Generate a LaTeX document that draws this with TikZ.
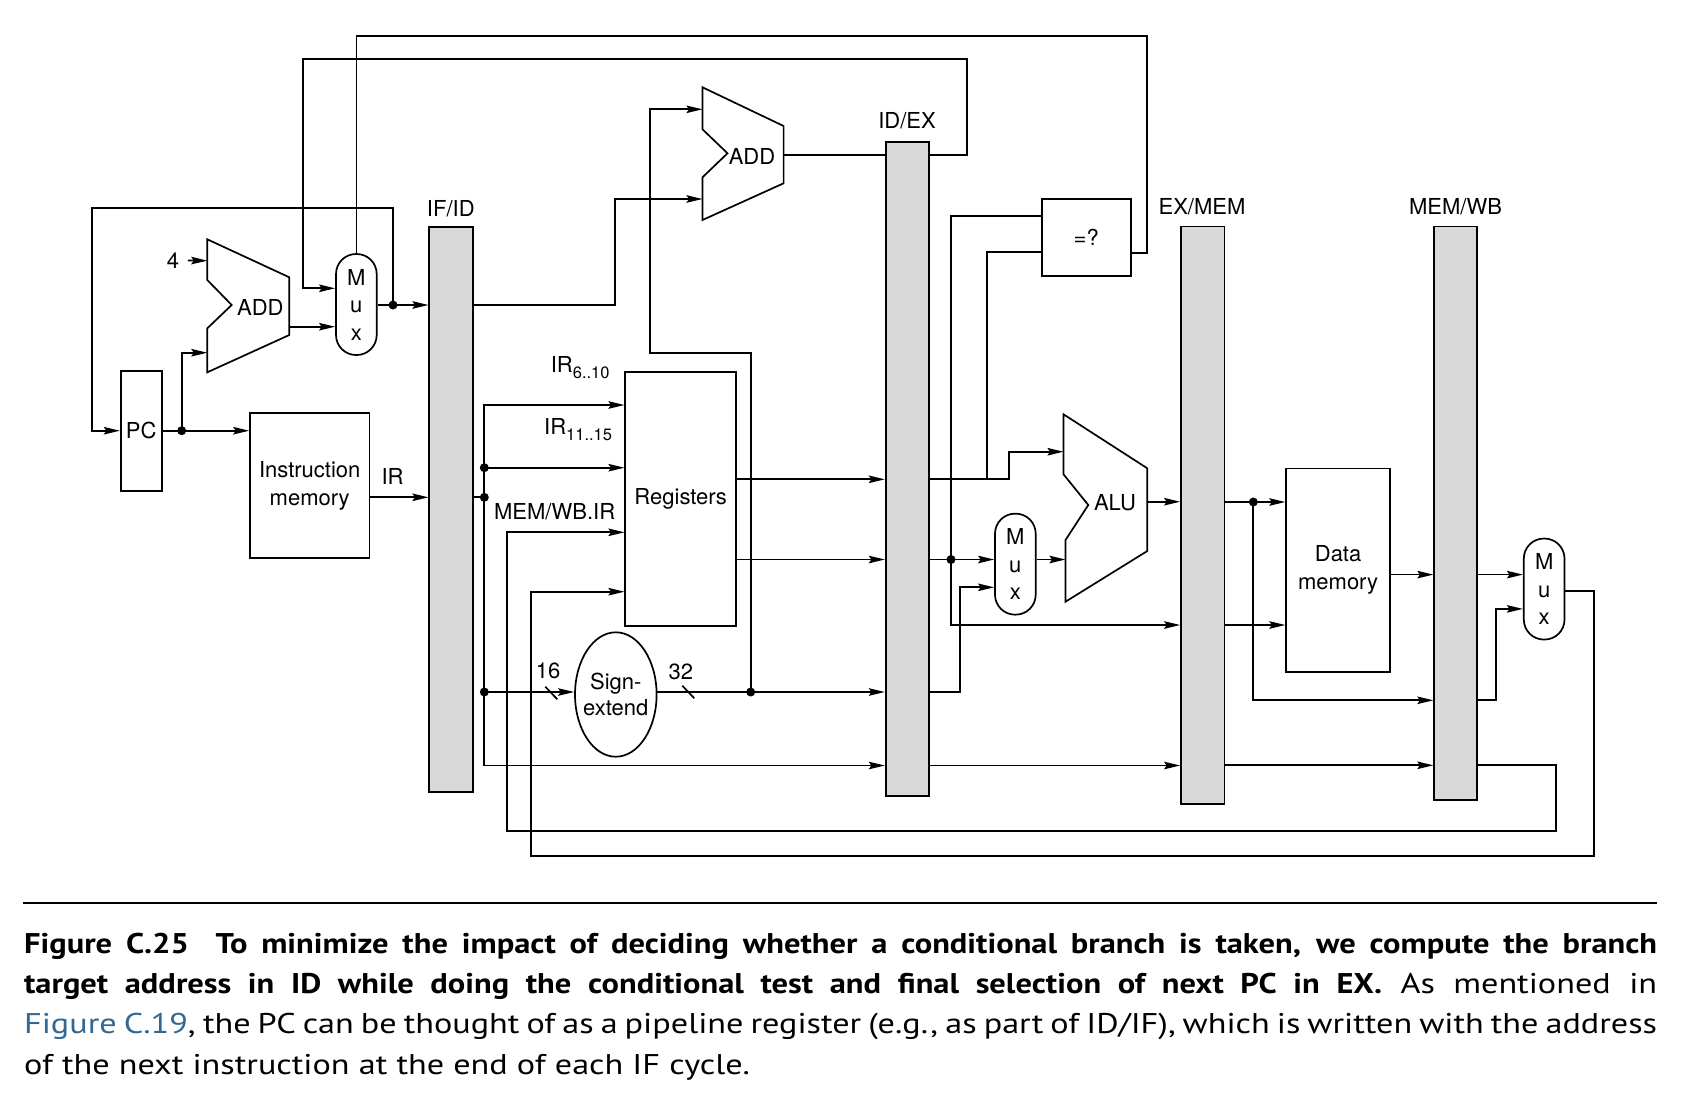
\documentclass[tikz,border=0pt]{standalone}
\usepackage{fontspec}
\setmainfont{PT Sans}[FakeStretch=1.2,BoldFeatures={FakeStretch=1.14}]
\newfontfamily\hv{TeX Gyre Heros}
\usetikzlibrary{arrows.meta,shapes.geometric}
\newcommand\myfs[2]{\fontsize{#1}{#2}\selectfont}
\definecolor{barfill}{RGB}{217,217,217}
\definecolor{linkc}{RGB}{52,104,148}
\begin{document}
\begin{tikzpicture}[x=1pt,y=-1pt,line width=1.7pt,
  arr/.style={-{Stealth[length=16pt,width=7.5pt,inset=2.5pt]}},
  box/.style={draw,inner sep=0pt,font=\hv\myfs{22}{28},align=center},
  bar/.style={draw,fill=barfill,inner sep=0pt},
  mux/.style={draw,rounded corners=20pt,inner sep=0pt,minimum width=40.7pt,minimum height=101pt,font=\hv\myfs{22}{27.5},align=center},
  lbl/.style={inner sep=0pt,font=\hv\myfs{22}{28}},
  dot/.style={circle,fill,inner sep=0pt,minimum size=9pt},
  captext/.style={anchor=base west,inner sep=0pt,font=\myfs{28.5}{40}}]
\useasboundingbox (0,0) rectangle (1692,1104);
% ---------- blocks ----------
\node[box,minimum width=41pt,minimum height=120pt] (pc) at (141.2,430.7) {PC};
\node[box,minimum width=119.3pt,minimum height=144.5pt] (im) at (309.7,485.5) {Instruction\\memory};
\node[bar,minimum width=43.4pt,minimum height=565.6pt] (ifid) at (451,509.5) {};
\node[bar,minimum width=43.3pt,minimum height=654pt] (idex) at (907.35,468.7) {};
\node[bar,minimum width=43.5pt,minimum height=577.7pt] (exmem) at (1202.75,515.35) {};
\node[bar,minimum width=43.1pt,minimum height=573.3pt] (memwb) at (1455.75,513.05) {};
\node[box,minimum width=110.7pt,minimum height=253.7pt] (regs) at (680.65,499.15) {Registers};
\node[draw,ellipse,inner sep=0pt,minimum width=81.6pt,minimum height=124.4pt] (sext) at (615.8,694.5) {};
\node[lbl,align=center,font=\hv\myfs{22}{26.5}] (sextl) at (sext.center) {Sign-\\extend};
\node[box,minimum width=89pt,minimum height=76.7pt] (eq) at (1086.2,237.35) {=?};
\node[box,minimum width=103.8pt,minimum height=203.7pt] (dm) at (1338.1,570.35) {Data\\memory};
\node[mux] (mux1) at (356.35,304.5) {M\\u\\x};
\node[mux] (mux2) at (1015.35,564.15) {M\\u\\x};
\node[mux] (mux3) at (1544.15,589.05) {M\\u\\x};
% adders and ALU
\draw (207.3,239.3) -- (289.3,277.3) -- (289.3,335) -- (207.3,372.3) -- (207.3,328.3) -- (231.7,305) -- (207.3,280) -- cycle;
\node[lbl,anchor=base] (add1) at (260.3,315) {ADD};
\draw (702.5,87.3) -- (783.6,126) -- (783.6,183.3) -- (702.5,220) -- (702.5,177.3) -- (727.5,153.3) -- (702.5,129.3) -- cycle;
\node[lbl,anchor=base] (add2) at (752,164) {ADD};
\draw (1063.5,414.3) -- (1147.3,468.3) -- (1147.3,551) -- (1065.5,601.7) -- (1065.5,540) -- (1088.3,505) -- (1063.5,474.3) -- cycle;
\node[lbl,anchor=base] (alu) at (1115,510) {ALU};
\coordinate (add1a) at (207.3,260.7);
\coordinate (add1b) at (207.3,352.7);
\coordinate (add1o) at (289.3,326.7);
\coordinate (add2a) at (702.5,109.3);
\coordinate (add2b) at (702.5,199);
\coordinate (add2o) at (783.6,155);
\coordinate (alua) at (1063.5,451.7);
\coordinate (alub) at (1065.5,559.5);
\coordinate (aluo) at (1147.3,501.7);
% ---------- labels ----------
\node[lbl,anchor=base] (four) at (173,268.3) {4};
\node[lbl,anchor=base] (lifid) at (450.8,216) {IF/ID};
\node[lbl,anchor=base] (lidex) at (907,128.3) {ID/EX};
\node[lbl,anchor=base] (lexmem) at (1202,214.3) {EX/MEM};
\node[lbl,anchor=base] (lmemwb) at (1455.5,214.3) {MEM/WB};
\node[lbl,anchor=base] (lir) at (392.5,484) {IR};
\node[lbl,anchor=base west] (lir1) at (550,372.3) {IR\raisebox{-6pt}{\myfs{16.5}{16.5}6..10}};
\node[lbl,anchor=base west] (lir2) at (543.3,434.3) {IR\raisebox{-6pt}{\myfs{16.5}{16.5}11..15}};
\node[lbl,anchor=base west] (lmwir) at (493.3,519.3) {MEM/WB.IR};
\node[lbl,anchor=base west] (l16) at (535,678.3) {16};
\node[lbl,anchor=base west] (l32) at (667.7,679) {32};
\draw (545.3,686.7) -- (557.3,699.3);
\draw (682.3,685.7) -- (694.3,698.3);
% ---------- junction dots ----------
\node[dot] (d1) at (181.7,430.7) {};
\node[dot] (d2) at (393,305) {};
\node[dot] (d3) at (484.3,467.7) {};
\node[dot] (d4) at (484.3,497.3) {};
\node[dot] (d5) at (484.3,692) {};
\node[dot] (d6) at (750.7,692) {};
\node[dot] (d7) at (951,559.5) {};
\node[dot] (d8) at (1253.3,502) {};
% ---------- IF stage ----------
\draw[arr] ([xshift=8pt]four.east) -- (add1a);
\draw (pc.east) -- (d1.center);
\draw[arr] (d1.center) -- (im.west |- d1);
\draw[arr] (d1.center) |- (add1b);
\draw[arr] (add1o) -- (mux1.west |- add1o);
\draw (mux1.east |- d2) -- (d2.center);
\draw[arr] (d2.center) -- (ifid.west |- d2);
\draw[arr] (d2.center) -- (393,208.3) -- (92.3,208.3) |- (pc.west);
\draw (mux1.north) -- (356.35,36) -| (1147.3,252.7) -- (eq.east |- 0,252.7);
\draw[arr] (idex.east |- 0,155) -- (966.8,155) -- (966.8,59) -- (303.3,59) |- (mux1.west |- 0,288.3);
\draw[arr] (im.east |- 0,497.3) -- (ifid.west |- 0,497.3);
% ---------- ID stage ----------
\draw[arr] (ifid.east |- d2) -- (615,305) |- (add2b);
\draw (ifid.east |- d4) -- (d4.center);
\draw[arr] (d4.center) |- (regs.west |- 0,405);
\draw[arr] (d4.center) |- (idex.west |- 0,765.5);
\draw[arr] (d3.center) -- (regs.west |- d3);
\draw[arr] (d5.center) -- (sext.west |- d5);
\draw (sext.east |- d6) -- (d6.center);
\draw[arr] (d6.center) -- (idex.west |- d6);
\draw[arr] (d6.center) -- (750.7,353.3) -- (650,353.3) |- (add2a);
\draw (add2o) -- (idex.west |- add2o);
\draw[arr] (regs.east |- 0,479.3) -- (idex.west |- 0,479.3);
\draw[arr] (regs.east |- 0,559.5) -- (idex.west |- 0,559.5);
\draw[arr] (memwb.east |- 0,765.3) -- (1556.3,765.3) -- (1556.3,830.7) -- (507.3,830.7) |- (regs.west |- 0,532.3);
\draw[arr] (mux3.east |- 0,591) -- (1594.3,591) -- (1594.3,855.7) -- (531.3,855.7) |- (regs.west |- 0,591.7);
% ---------- EX stage ----------
\draw[arr] (idex.east |- 0,479.3) -- (1009.3,479.3) |- (alua);
\draw (986.7,479.3) |- (eq.west |- 0,251.7);
\draw (idex.east |- d7) -- (d7.center);
\draw[arr] (d7.center) -- (mux2.west |- d7);
\draw (d7.center) |- (eq.west |- 0,215.7);
\draw[arr] (d7.center) |- (exmem.west |- 0,625);
\draw[arr] (idex.east |- d6) -- (960,692) |- (mux2.west |- 0,587.3);
\draw[arr] (mux2.east |- alub) -- (alub);
\draw[arr] (aluo) -- (exmem.west |- aluo);
\draw[arr] (idex.east |- 0,765.5) -- (exmem.west |- 0,765.5);
% ---------- MEM / WB stages ----------
\draw (exmem.east |- d8) -- (d8.center);
\draw[arr] (d8.center) -- (dm.west |- d8);
\draw[arr] (d8.center) |- (memwb.west |- 0,700.3);
\draw[arr] (exmem.east |- 0,625) -- (dm.west |- 0,625);
\draw[arr] (exmem.east |- 0,765.3) -- (memwb.west |- 0,765.3);
\draw[arr] (dm.east |- 0,574.6) -- (memwb.west |- 0,574.6);
\draw[arr] (memwb.east |- 0,574.6) -- (mux3.west |- 0,574.6);
\draw[arr] (memwb.east |- 0,700.3) -- (1496,700.3) |- (mux3.west |- 0,608.9);
% ---------- caption ----------
\draw[line width=2.3pt] (23.3,902.7) -- (1656.7,902.7);
\node[captext] (cap1) at (23.3,953) {\makebox[1633pt][s]{\bfseries Figure C.25\hspace{0.45em} To minimize the impact of deciding whether a conditional branch is taken, we compute the branch}};
\node[captext] (cap2) at (23.3,993.3) {\makebox[1633pt][s]{\textbf{target address in ID while doing the conditional test and final selection of next PC in EX.} As mentioned in}};
\node[captext] (cap3) at (23.3,1033.5) {\makebox[1633pt][s]{\textcolor{linkc}{Figure C.19}, the PC can be thought of as a pipeline register (e.g., as part of ID/IF), which is written with the address}};
\node[captext] (cap4) at (23.3,1074) {of the next instruction at the end of each IF cycle.};
\end{tikzpicture}
\end{document}
